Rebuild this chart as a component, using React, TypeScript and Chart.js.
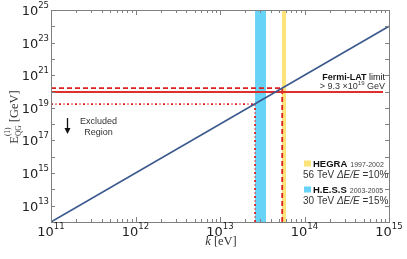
import React, { useEffect, useRef } from "react";
import { Chart, registerables } from "chart.js";
Chart.register(...registerables);

// ---- data ----
const kRange = [1e11, 1e15];
const eRange = [1e12, 1e25];
const qgLineK = [1e11, 1e15];
const qgLineE = [1e12, 1e24];
const fermiK = [1e11, 8.5e14];
const fermiE = [9.3e19, 9.3e19];
const hegraLimitK = [1e11, 5.45e13, 5.45e13];
const hegraLimitE = [1.6e20, 1.6e20, 1e12];
const hessLimitK = [1e11, 2.6e13, 2.6e13];
const hessLimitE = [1.7e19, 1.7e19, 1e12];
const hessBand = [2.6e13, 3.5e13];
const hegraBand = [5.4e13, 6.05e13];
const xTickExps = [11, 12, 13, 14, 15];
const yTickExps = [13, 15, 17, 19, 21, 23, 25];
const yMajorExps = [12, 13, 14, 15, 16, 17, 18, 19, 20, 21, 22, 23, 24, 25];

const pts = (xs: number[], ys: number[]) => xs.map((x, i) => ({ x, y: ys[i] }));

const SANS = "'Liberation Sans', Arial, sans-serif";
const TICKF = "'DejaVu Sans', sans-serif";
const SERIF = "'Liberation Serif', 'DejaVu Serif', serif";

const decorPlugin = {
  id: "decor",
  beforeDatasetsDraw(chart: any) {
    const { ctx, chartArea, scales } = chart;
    const x = scales.x;
    ctx.save();
    const band = (b: number[], color: string) => {
      const x0 = x.getPixelForValue(b[0]);
      const x1 = x.getPixelForValue(b[1]);
      ctx.fillStyle = color;
      ctx.fillRect(x0, chartArea.top, x1 - x0, chartArea.bottom - chartArea.top);
    };
    band(hessBand, "#67d3f6");
    band(hegraBand, "#fde47a");
    ctx.restore();
  },
  afterDraw(chart: any) {
    const { ctx, chartArea, scales } = chart;
    const xs = scales.x;
    const ys = scales.y;
    const { left, right, top, bottom } = chartArea;
    ctx.save();
    // frame
    ctx.strokeStyle = "#808080";
    ctx.lineWidth = 1;
    ctx.strokeRect(Math.round(left) + 0.5, Math.round(top) + 0.5, Math.round(right - left), Math.round(bottom - top));
    // x ticks
    ctx.beginPath();
    for (let e = 11; e <= 15; e++) {
      for (let m = 1; m <= 9; m++) {
        const v = m * Math.pow(10, e);
        if (v > kRange[1]) break;
        const px = Math.round(xs.getPixelForValue(v)) + 0.5;
        const len = m === 1 ? 5 : 3;
        ctx.moveTo(px, bottom);
        ctx.lineTo(px, bottom - len);
        ctx.moveTo(px, top);
        ctx.lineTo(px, top + len);
      }
    }
    // y ticks
    for (const e of yMajorExps) {
      const py = Math.round(ys.getPixelForValue(Math.pow(10, e))) + 0.5;
      ctx.moveTo(left, py);
      ctx.lineTo(left + 4, py);
      ctx.moveTo(right, py);
      ctx.lineTo(right - 4, py);
    }
    ctx.stroke();

    // tick labels
    ctx.fillStyle = "#222";
    ctx.textBaseline = "alphabetic";
    const pow = (exp: string, x: number, base: number, align: string) => {
      ctx.font = `13px ${TICKF}`;
      const w1 = ctx.measureText("10").width;
      ctx.font = `8.5px ${TICKF}`;
      const w2 = ctx.measureText(exp).width;
      const w = w1 + w2;
      let sx = x;
      if (align === "center") sx = x - w / 2;
      if (align === "right") sx = x - w;
      ctx.textAlign = "left";
      ctx.font = `13px ${TICKF}`;
      ctx.fillText("10", sx, base);
      ctx.font = `8.5px ${TICKF}`;
      ctx.fillText(exp, sx + w1, base - 7);
    };
    for (const e of xTickExps) {
      pow(String(e), xs.getPixelForValue(Math.pow(10, e)), 236, "center");
    }
    for (const e of yTickExps) {
      pow(String(e), left - 2, ys.getPixelForValue(Math.pow(10, e)) + 5, "right");
    }

    // x axis title
    ctx.fillStyle = "#333";
    ctx.font = `italic 12.5px ${SERIF}`;
    const kw = ctx.measureText("k").width;
    ctx.font = `12.5px ${SERIF}`;
    const rest = " [eV]";
    const rw = ctx.measureText(rest).width;
    const xc = (left + right) / 2 + 1;
    let sx = xc - (kw + rw) / 2;
    ctx.textAlign = "left";
    ctx.font = `italic 12.5px ${SERIF}`;
    ctx.fillText("k", sx, 245);
    ctx.font = `12.5px ${SERIF}`;
    ctx.fillText(rest, sx + kw, 245);

    // y axis title
    ctx.save();
    ctx.translate(18, 117);
    ctx.rotate(-Math.PI / 2);
    ctx.font = `12.5px ${SERIF}`;
    const ew = ctx.measureText("E").width;
    ctx.font = `7.5px ${SERIF}`;
    const qw = ctx.measureText("QG").width;
    const ow = ctx.measureText("(1)").width;
    ctx.font = `12.5px ${SERIF}`;
    const gw = ctx.measureText(" [GeV]").width;
    const total = ew + Math.max(qw, ow) + gw;
    let tx = -total / 2;
    ctx.fillText("E", tx, 0);
    ctx.font = `7.5px ${SERIF}`;
    ctx.fillText("QG", tx + ew, 3);
    ctx.fillText("(1)", tx + ew, -8);
    ctx.font = `12.5px ${SERIF}`;
    ctx.fillText(" [GeV]", tx + ew + Math.max(qw, ow), 0);
    ctx.restore();

    // Excluded region annotation
    ctx.strokeStyle = "#111";
    ctx.fillStyle = "#111";
    ctx.lineWidth = 1.3;
    ctx.beginPath();
    ctx.moveTo(67.5, 118);
    ctx.lineTo(67.5, 131);
    ctx.stroke();
    ctx.beginPath();
    ctx.moveTo(64.5, 128);
    ctx.lineTo(70.5, 128);
    ctx.lineTo(67.5, 134);
    ctx.closePath();
    ctx.fill();
    ctx.fillStyle = "#333";
    ctx.font = `9px ${SANS}`;
    ctx.textAlign = "center";
    ctx.fillText("Excluded", 98.5, 124);
    ctx.fillText("Region", 98.5, 135);

    // Fermi-LAT label
    ctx.textAlign = "left";
    ctx.fillStyle = "#111";
    ctx.font = `bold 9px ${SANS}`;
    const fw = ctx.measureText("Fermi-LAT").width;
    ctx.font = `9px ${SANS}`;
    const lw = ctx.measureText(" limit").width;
    let fx = 385 - fw - lw;
    ctx.font = `bold 9px ${SANS}`;
    ctx.fillText("Fermi-LAT", fx, 80);
    ctx.font = `9px ${SANS}`;
    ctx.fillText(" limit", fx + fw, 80);
    ctx.fillStyle = "#333";
    const p1 = "> 9.3 \u00d710";
    const p2 = "19";
    const p3 = " GeV";
    ctx.font = `9px ${SANS}`;
    const w1 = ctx.measureText(p1).width;
    const w3 = ctx.measureText(p3).width;
    ctx.font = `6px ${SANS}`;
    const w2 = ctx.measureText(p2).width;
    let gx = 385 - w1 - w2 - w3;
    ctx.font = `9px ${SANS}`;
    ctx.fillText(p1, gx, 89);
    ctx.font = `6px ${SANS}`;
    ctx.fillText(p2, gx + w1, 85);
    ctx.font = `9px ${SANS}`;
    ctx.fillText(p3, gx + w1 + w2, 89);

    // legend
    const legend = (color: string, yTop: number, name: string, years: string, line2a: string, line2b: string, base2: number) => {
      ctx.fillStyle = color;
      ctx.fillRect(304, yTop, 7, 6);
      ctx.fillStyle = "#111";
      ctx.font = `bold 9.5px ${SANS}`;
      ctx.textAlign = "left";
      ctx.fillText(name, 313, yTop + 6.5);
      const nw = ctx.measureText(name).width;
      ctx.fillStyle = "#444";
      ctx.font = `7px ${SANS}`;
      ctx.fillText(years, 313 + nw + 3, yTop + 6.5);
      ctx.fillStyle = "#333";
      ctx.font = `10px ${SANS}`;
      ctx.fillText(line2a, 303, base2);
      const aw = ctx.measureText(line2a).width;
      ctx.font = `italic 10px ${SANS}`;
      ctx.fillText("\u0394E/E", 303 + aw, base2);
      const dw = ctx.measureText("\u0394E/E").width;
      ctx.font = `10px ${SANS}`;
      ctx.fillText(line2b, 303 + aw + dw, base2);
    };
    legend("#fde47a", 160.5, "HEGRA", "1997-2002", "56 TeV ", " =10%", 177.5);
    legend("#67d3f6", 186.5, "H.E.S.S", "2003-2005", "30 TeV ", " =15%", 203.5);

    ctx.restore();
  },
};

export default function App() {
  const ref = useRef<HTMLCanvasElement | null>(null);
  useEffect(() => {
    document.body.style.margin = "0";
    const canvas = ref.current!;
    const chart = new Chart(canvas, {
      type: "line",
      data: {
        datasets: [
          {
            label: "QG line",
            data: pts(qgLineK, qgLineE),
            borderColor: "#3c5a8e",
            borderWidth: 1.6,
            pointRadius: 0,
            fill: false,
          },
          {
            label: "Fermi-LAT limit",
            data: pts(fermiK, fermiE),
            borderColor: "#dd2f2b",
            borderWidth: 2,
            pointRadius: 0,
            fill: false,
          },
          {
            label: "HEGRA limit",
            data: pts(hegraLimitK, hegraLimitE),
            borderColor: "#dd2121",
            borderWidth: 1.8,
            borderDash: [5, 3],
            pointRadius: 0,
            fill: false,
          },
          {
            label: "HESS limit",
            data: pts(hessLimitK, hessLimitE),
            borderColor: "#dd2121",
            borderWidth: 1.8,
            borderDash: [2, 2.5, 1, 2.5],
            pointRadius: 0,
            fill: false,
          },
        ],
      },
      options: {
        responsive: false,
        animation: false,
        devicePixelRatio: 1,
        layout: { padding: { left: 51, right: 18, top: 10, bottom: 37 } },
        plugins: { legend: { display: false }, tooltip: { enabled: false } },
        scales: {
          x: { type: "logarithmic", min: kRange[0], max: kRange[1], display: false },
          y: { type: "logarithmic", min: eRange[0], max: eRange[1], display: false },
        },
      },
      plugins: [decorPlugin],
    } as any);
    return () => chart.destroy();
  }, []);
  return (
    <div style={{ position: "absolute", left: 0, top: 0, width: 407, height: 259 }}>
      <canvas ref={ref} width={407} height={259} style={{ width: 407, height: 259 }} />
    </div>
  );
}
